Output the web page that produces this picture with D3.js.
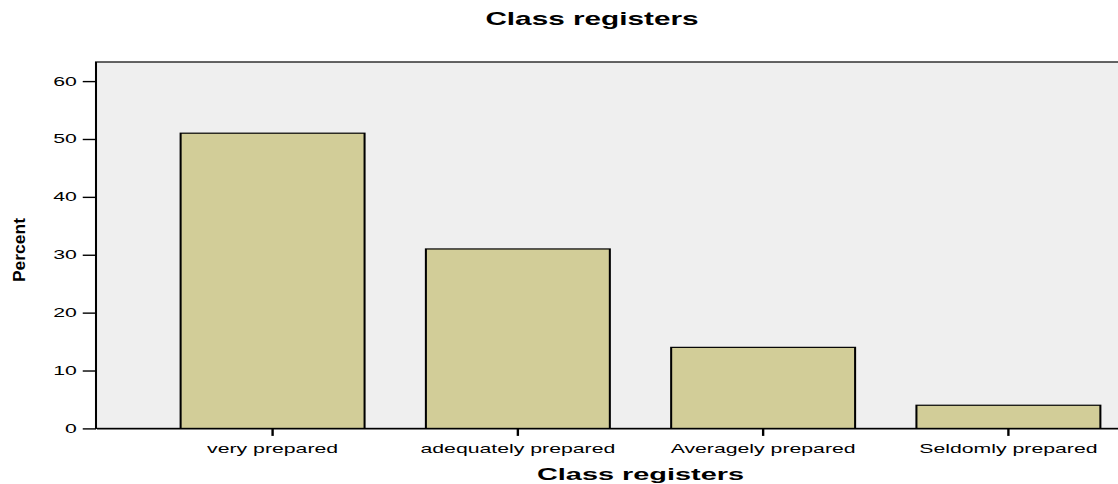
<!DOCTYPE html>
<html>
<head>
<meta charset="utf-8">
<script src="https://cdn.jsdelivr.net/npm/d3@7"></script>
<style>
  html, body { margin: 0; padding: 0; background: #fff; }
  svg { display: block; }
  text { font-family: "Liberation Sans", Arial, sans-serif; fill: #000; }
</style>
</head>
<body>
<svg id="chart"></svg>
<script>
// Data
const categories = ["very prepared", "adequately prepared", "Averagely prepared", "Seldomly prepared"];
const percents = [51, 31, 14, 4];
const yTicks = [0, 10, 20, 30, 40, 50, 60];
const chartTitle = "Class registers";
const xTitle = "Class registers";
const yTitle = "Percent";

// Canvas: drawn in a narrow coordinate space, stretched horizontally to the window
const pxW = 1118, pxH = 484;
const sx = 1.7;
const W = pxW / sx;

const svg = d3.select("#chart")
  .attr("width", pxW)
  .attr("height", pxH)
  .attr("viewBox", `0 0 ${W} ${pxH}`)
  .attr("preserveAspectRatio", "none");

const plot = { left: 96 / sx, right: 1185 / sx, top: 62, bottom: 428.4 };

const x = d3.scaleBand()
  .domain(categories)
  .range([plot.left, plot.right])
  .paddingInner(0.25)
  .paddingOuter(0.345);

const y = d3.scaleLinear()
  .domain([0, 63.3])
  .range([plot.bottom, plot.top]);

// Plot area
svg.append("rect")
  .attr("x", plot.left)
  .attr("y", plot.top)
  .attr("width", plot.right - plot.left)
  .attr("height", plot.bottom - plot.top)
  .attr("fill", "#efefef")
  .attr("stroke", "#000")
  .attr("stroke-width", 1.2);

// Bars
svg.append("g").selectAll("rect")
  .data(categories.map((c, i) => ({ c, v: percents[i] })))
  .join("rect")
  .attr("x", d => x(d.c))
  .attr("y", d => y(d.v))
  .attr("width", x.bandwidth())
  .attr("height", d => y(0) - y(d.v))
  .attr("fill", "#d2cd98")
  .attr("stroke", "#000")
  .attr("stroke-width", 1.2);

// Y axis
const yAxis = svg.append("g")
  .attr("transform", `translate(${plot.left},0)`)
  .call(d3.axisLeft(y).tickValues(yTicks).tickSize(7.8).tickPadding(3.5).tickSizeOuter(0));
yAxis.select(".domain").remove();
yAxis.selectAll(".tick line").attr("stroke", "#000").attr("stroke-width", 1.4);
yAxis.selectAll(".tick text")
  .attr("font-size", 12.5)
  .attr("font-family", "Liberation Sans, Arial, sans-serif")
  .attr("fill", "#000");

// X axis
const xAxis = svg.append("g")
  .attr("transform", `translate(0,${plot.bottom})`)
  .call(d3.axisBottom(x).tickSize(7.5).tickPadding(8).tickSizeOuter(0));
xAxis.select(".domain").attr("stroke", "#000").attr("stroke-width", 1.2);
xAxis.selectAll(".tick line").attr("stroke", "#000").attr("stroke-width", 1.4);
xAxis.selectAll(".tick text")
  .attr("font-size", 12.5)
  .attr("font-family", "Liberation Sans, Arial, sans-serif")
  .attr("fill", "#000");

// Titles
svg.append("text")
  .attr("x", 592 / sx)
  .attr("y", 25)
  .attr("text-anchor", "middle")
  .attr("font-weight", "bold")
  .attr("font-size", 17.5)
  .text(chartTitle);

svg.append("text")
  .attr("x", (x(categories[0]) + x(categories[3]) + x.bandwidth()) / 2)
  .attr("y", 480)
  .attr("text-anchor", "middle")
  .attr("font-weight", "bold")
  .attr("font-size", 17)
  .text(xTitle);

svg.append("text")
  .attr("transform", `translate(${24.5 / sx},250) rotate(-90) scale(1.75,1)`)
  .attr("text-anchor", "middle")
  .attr("font-weight", "bold")
  .attr("font-size", 10)
  .text(yTitle);
</script>
</body>
</html>
